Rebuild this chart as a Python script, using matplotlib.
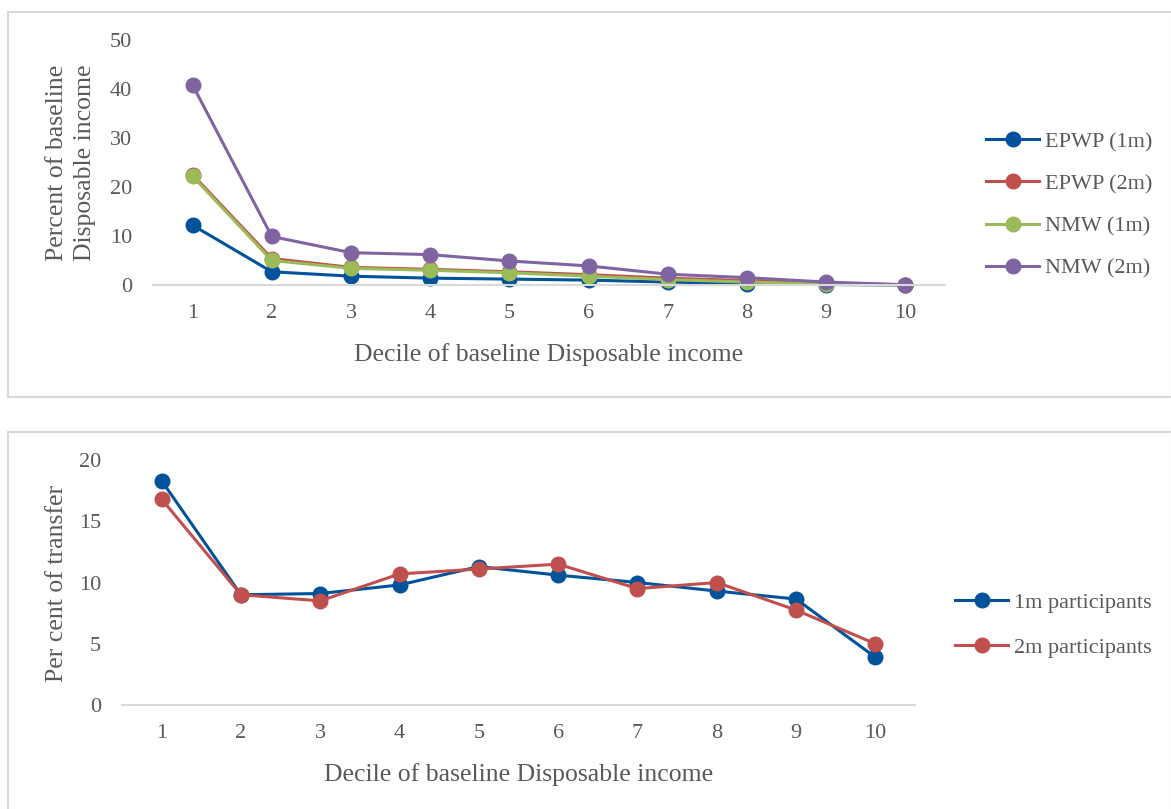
import matplotlib
matplotlib.use("Agg")
import matplotlib.pyplot as plt
from matplotlib.patches import Rectangle

plt.rcParams['font.family'] = ['Liberation Serif', 'DejaVu Serif']

# Data
deciles = [1, 2, 3, 4, 5, 6, 7, 8, 9, 10]
tick_labels = [str(d) for d in deciles]

epwp_1m = [12.2, 2.7, 1.8, 1.4, 1.2, 1.0, 0.6, 0.3, 0.1, 0.0]
epwp_2m = [22.5, 5.4, 3.6, 3.2, 2.7, 2.1, 1.4, 0.9, 0.4, 0.05]
nmw_1m = [22.2, 5.0, 3.4, 3.0, 2.5, 1.8, 1.1, 0.6, 0.2, 0.0]
nmw_2m = [40.8, 9.9, 6.6, 6.2, 4.9, 3.9, 2.2, 1.5, 0.6, 0.05]

part_1m = [18.3, 9.0, 9.1, 9.8, 11.3, 10.6, 10.0, 9.3, 8.65, 3.9]
part_2m = [16.8, 9.0, 8.5, 10.7, 11.1, 11.5, 9.5, 10.0, 7.75, 5.0]

W, H = 1171, 809
fig = plt.figure(figsize=(W / 100, H / 100), dpi=100)

BLUE = '#00529B'
RED = '#C0504D'
GREEN = '#9BBB59'
PURPLE = '#8064A2'
TXT = '#595959'
GRID = '#D9D9D9'


def px_axes(x0, y0, x1, y1):
    return fig.add_axes([x0 / W, 1 - y1 / H, (x1 - x0) / W, (y1 - y0) / H])


def px_text(x, y, s, **kw):
    return fig.text(x / W, 1 - y / H, s, **kw)


# Panel frames
for (x0, y0, x1, y1) in [(8, 12, 1172, 397), (8, 432, 1172, 812)]:
    fig.add_artist(Rectangle((x0 / W, 1 - y1 / H), (x1 - x0) / W, (y1 - y0) / H,
                             transform=fig.transFigure, fill=False,
                             edgecolor='#D9D9D9', linewidth=1.5))


def style(ax, ylim, yticks):
    ax.set_xlim(0.5, 10.5)
    ax.set_ylim(*ylim)
    ax.set_yticks(yticks)
    ax.set_xticks(deciles)
    ax.set_xticklabels(tick_labels)
    for s in ['top', 'right', 'left']:
        ax.spines[s].set_visible(False)
    ax.spines['bottom'].set_color(GRID)
    ax.spines['bottom'].set_linewidth(1.5)
    ax.tick_params(axis='both', length=0, colors=TXT, labelsize=16)
    ax.tick_params(axis='x', pad=14)
    ax.tick_params(axis='y', pad=15)
    ax.set_facecolor('none')


def place_legend(ax, x_px, yc_px, spacing):
    ax.legend(loc='center left', bbox_to_anchor=(x_px / W, 1 - yc_px / H),
              bbox_transform=fig.transFigure, frameon=False, fontsize=16,
              labelcolor=TXT, handlelength=2.4, handletextpad=0.25,
              labelspacing=spacing, borderpad=0, borderaxespad=0)


line_kw = dict(linewidth=2.2, marker='o', markersize=10.5)
label_kw = dict(color=TXT, fontsize=18.5)

# Top chart: share of baseline disposable income by decile
ax1 = px_axes(153, 40, 945, 285)
ax1.plot(deciles, epwp_1m, color=BLUE, label='EPWP (1m)', **line_kw)
ax1.plot(deciles, epwp_2m, color=RED, label='EPWP (2m)', **line_kw)
ax1.plot(deciles, nmw_1m, color=GREEN, label='NMW (1m)', **line_kw)
ax1.plot(deciles, nmw_2m, color=PURPLE, label='NMW (2m)', **line_kw)
for ln in ax1.lines:
    ln.set_clip_on(False)
style(ax1, (0, 50), [0, 10, 20, 30, 40, 50])
ax1.set_xlabel('Decile of baseline Disposable income', labelpad=14, **label_kw)
px_text(71, 163, 'Percent of baseline\nDisposable income', rotation=90,
        ha='center', va='center', linespacing=1.35, **label_kw)
place_legend(ax1, 986, 205, 0.97)

# Bottom chart: distribution of the transfer by decile
ax2 = px_axes(122, 460, 915, 705)
ax2.plot(deciles, part_1m, color=BLUE, label='1m participants', **line_kw)
ax2.plot(deciles, part_2m, color=RED, label='2m participants', **line_kw)
for ln in ax2.lines:
    ln.set_clip_on(False)
style(ax2, (0, 20), [0, 5, 10, 15, 20])
ax2.set_xlabel('Decile of baseline Disposable income', labelpad=14, **label_kw)
px_text(57, 583, 'Per cent of transfer', rotation=90, ha='center', va='center',
        **label_kw)
place_legend(ax2, 955, 625, 1.12)

fig.savefig('out.png', dpi=100, facecolor='white')
